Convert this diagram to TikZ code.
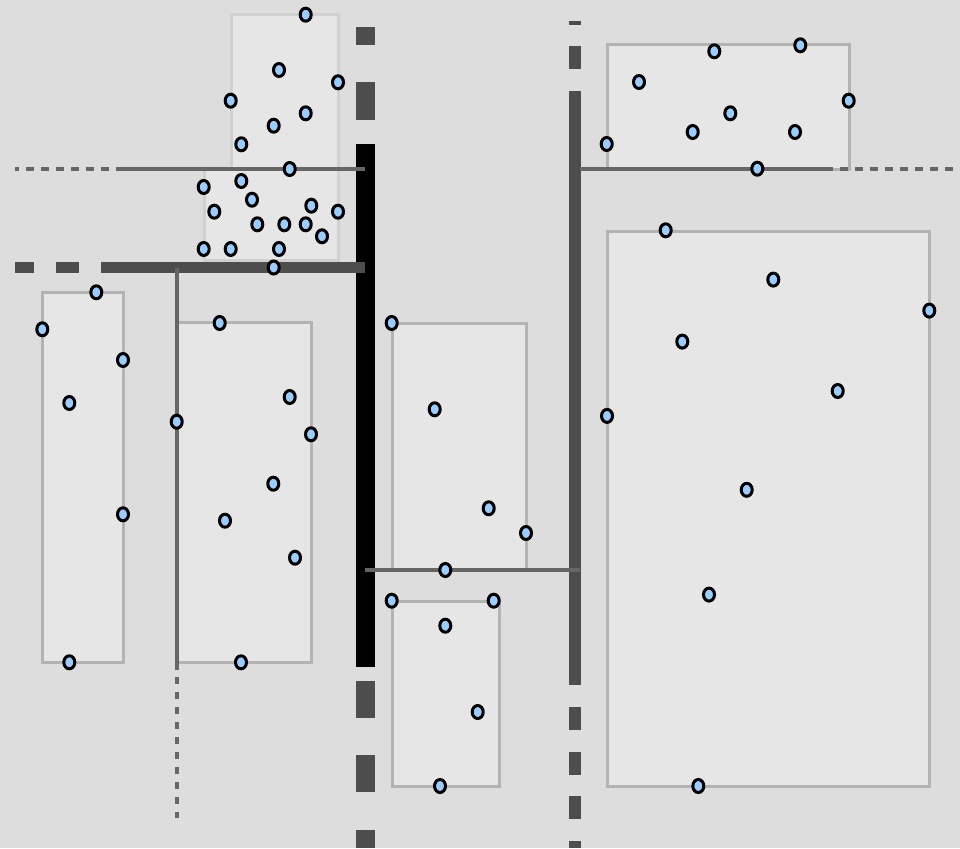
\documentclass[tikz,border=0pt]{standalone}
\usetikzlibrary{shapes.geometric}
\definecolor{bgc}{HTML}{DDDDDD}
\definecolor{boxfill}{HTML}{E6E6E6}
\definecolor{boxline}{HTML}{B3B3B3}
\definecolor{boxlight}{HTML}{D0D0D0}
\definecolor{dkc}{HTML}{4D4D4D}
\definecolor{thinc}{HTML}{666666}
\definecolor{ptfill}{HTML}{99CCFF}
\begin{document}
\begin{tikzpicture}[x=1pt,y=-1pt,
  cell/.style={fill=boxfill,draw=boxline,line width=3pt},
  celllight/.style={fill=boxfill,draw=boxlight,line width=3pt},
  dot/.style={ellipse,draw=black,fill=ptfill,line width=3pt,minimum width=11pt,minimum height=13pt,inner sep=0pt},
  thinline/.style={draw=thinc,line width=4pt},
  thickseg/.style={fill=dkc}]
\fill[bgc] (0,0) rectangle (960,848);
\useasboundingbox (0,0) rectangle (960,848);

% cells
\path[celllight] (231,15) rectangle (338,260);
\path[celllight] (204,169) rectangle (338,260);
\path[cell] (607,45) rectangle (849,169);
\path[cell] (607,231) rectangle (929.5,786);
\path[cell] (392,323) rectangle (526,570);
\path[cell] (392,601) rectangle (499,786);
\path[cell] (42.5,292.5) rectangle (123,662.5);
\path[cell] (177,322.5) rectangle (311,662.5);

% main vertical split
\fill[thickseg] (356,27) rectangle (375,45);
\fill[thickseg] (356,82) rectangle (375,120);
\fill[black] (356,144) rectangle (375,667);
\fill[thickseg] (356,681) rectangle (375,718);
\fill[thickseg] (356,755) rectangle (375,792);
\fill[thickseg] (356,830) rectangle (375,848);

% second vertical split
\fill[thickseg] (569,21) rectangle (581,25);
\fill[thickseg] (569,46) rectangle (581,69);
\fill[thickseg] (569,91) rectangle (581,685);
\fill[thickseg] (569,707) rectangle (581,730);
\fill[thickseg] (569,752) rectangle (581,775);
\fill[thickseg] (569,796) rectangle (581,819);
\fill[thickseg] (569,841) rectangle (581,848);

% thick horizontal split
\fill[thickseg] (15,262) rectangle (34,273);
\fill[thickseg] (56,262) rectangle (79,273);
\fill[thickseg] (101,262) rectangle (365,273);

% thin splits
\draw[thinline] (124,169) -- (365,169);
\draw[thinline,dash pattern=on 8pt off 7pt,dash phase=4pt] (15,169) -- (124,169);
\draw[thinline] (580,169) -- (825,169);
\draw[thinline,dash pattern=on 8pt off 7pt] (825,169) -- (953,169);
\draw[thinline] (177,268) -- (177,670);
\draw[thinline,dash pattern=on 7pt off 8pt] (177,677) -- (177,818);
\draw[thinc,line width=3.5pt] (365,570) -- (580,570);

% points
\foreach \x/\y [count=\i] in {
 305.7/14.7, 279/70, 338/82.3, 230.7/100.7, 305.7/113.3, 273.7/125.7, 241.3/144.3,
 289.7/169, 203.7/187, 241.3/181, 252/199.7, 214.3/211.7, 311.3/205.7, 338/211.7,
 257.3/224.3, 284.3/224.3, 305.7/224.3, 322/236.3, 203.7/249, 230.7/249, 279/249,
 273.7/267.5,
 714.3/51.3, 800.3/45.3, 639/82, 848.7/100.7, 730.3/113.3, 692.7/132, 795/132,
 606.7/144, 757.3/168.7, 665.7/230.3,
 773.3/279.6, 929.3/310.6, 682.3/341.6, 837.7/391, 607/415.9, 746.7/489.8,
 709/594.6, 698.3/786,
 96.3/292.3, 42.3/329.3, 123/360, 69.3/403, 219.7/323, 289.7/397, 176.7/421.7,
 311/434.3, 273.3/483.7, 225/520.7, 123/514.3, 295/557.7, 69.3/662.3, 241/662.3,
 391.7/323, 434.7/409.3, 488.7/508.3, 526/533, 445.3/570, 391.7/600.7, 493.7/600.7,
 445.3/625.7, 477.7/712, 440/786}
  \node[dot] (p\i) at (\x,\y) {};
\end{tikzpicture}
\end{document}
